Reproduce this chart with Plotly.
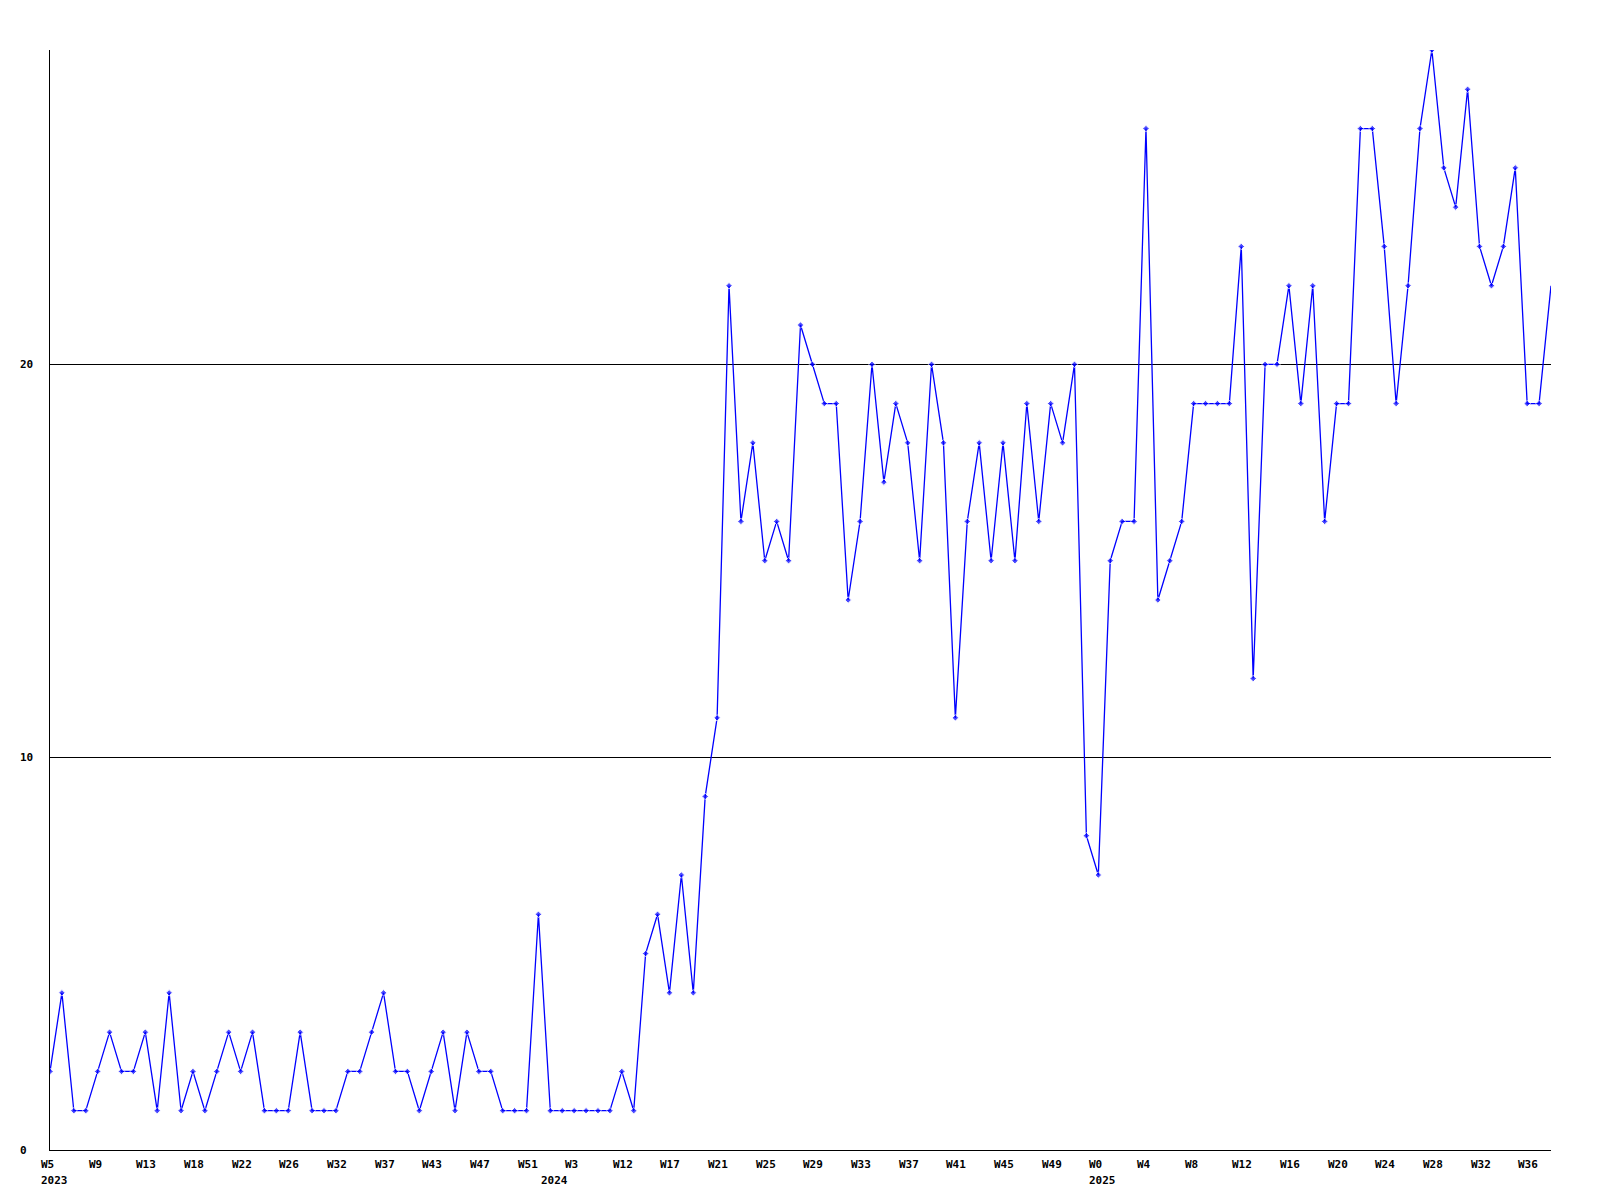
import plotly.graph_objects as go

# weekly values, one per point (2023 W5 onward)
values = [2, 4, 1, 1, 2, 3, 2, 2, 3, 1, 4, 1, 2, 1, 2, 3, 2, 3, 1, 1,
          1, 3, 1, 1, 1, 2, 2, 3, 4, 2, 2, 1, 2, 3, 1, 3, 2, 2, 1, 1,
          1, 6, 1, 1, 1, 1, 1, 1, 2, 1, 5, 6, 4, 7, 4, 9, 11, 22, 16, 18,
          15, 16, 15, 21, 20, 19, 19, 14, 16, 20, 17, 19, 18, 15, 20, 18, 11, 16, 18, 15,
          18, 15, 19, 16, 19, 18, 20, 8, 7, 15, 16, 16, 26, 14, 15, 16, 19, 19, 19, 19,
          23, 12, 20, 20, 22, 19, 22, 16, 19, 19, 26, 26, 23, 19, 22, 26, 28, 25, 24, 27,
          23, 22, 23, 25, 19, 19, 22]

week_labels = ["W5", "W9", "W13", "W18", "W22", "W26", "W32", "W37", "W43", "W47", "W51",
               "W3", "W12", "W17", "W21", "W25", "W29", "W33", "W37", "W41", "W45", "W49",
               "W0", "W4", "W8", "W12", "W16", "W20", "W24", "W28", "W32", "W36"]
label_step = 4
year_labels = ["2023", "2024", "2025"]
year_points = [0, 42, 88]
y_ticks = [0, 10, 20]
y_max = 28

x = list(range(len(values)))
font = dict(family="DejaVu Sans Mono", size=11, color="black", weight="bold")

fig = go.Figure()
marker_sizes = [5] * (len(values) - 1) + [0]
fig.add_trace(go.Scatter(
    x=x, y=values, mode="lines+markers",
    line=dict(color="#0000ff", width=1.3),
    marker=dict(color="#0000ff", size=marker_sizes, symbol="diamond"),
    hoverinfo="skip", showlegend=False,
))

annotations = []
for k, lab in enumerate(week_labels):
    annotations.append(dict(
        x=x[k * label_step], y=0, xref="x", yref="paper", text=lab,
        showarrow=False, xanchor="left", yanchor="top", xshift=-11, yshift=-6,
        font=font))
for lab, p in zip(year_labels, year_points):
    annotations.append(dict(
        x=x[p], y=0, xref="x", yref="paper", text=lab,
        showarrow=False, xanchor="left", yanchor="top", xshift=-11, yshift=-22,
        font=font))
for t in y_ticks:
    annotations.append(dict(
        x=0, y=t, xref="paper", yref="y", text=str(t),
        showarrow=False, xanchor="left", yanchor="middle", xshift=-32,
        font=font))

fig.update_layout(
    width=1600, height=1200,
    margin=dict(l=42, r=57, t=42, b=58),
    paper_bgcolor="white", plot_bgcolor="white",
    annotations=annotations,
    xaxis=dict(range=[0, len(values) - 1], showgrid=False, zeroline=False,
               showticklabels=False, ticks="", showline=True, linecolor="black",
               linewidth=1, fixedrange=True),
    yaxis=dict(range=[0, y_max], tickvals=y_ticks[1:], showgrid=True,
               gridcolor="black", gridwidth=1, zeroline=False,
               showticklabels=False, ticks="", showline=True, linecolor="black",
               linewidth=1, fixedrange=True),
)

fig.write_html("out.html")
